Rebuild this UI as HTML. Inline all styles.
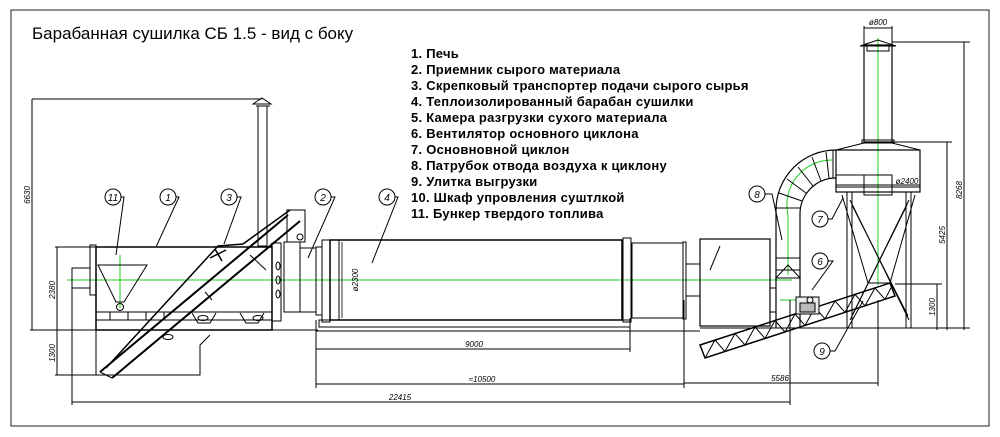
<!DOCTYPE html>
<html><head><meta charset="utf-8"><style>
html,body{margin:0;padding:0;background:#fff;width:1000px;height:437px;overflow:hidden}
svg{display:block}
.t{font-family:"Liberation Sans",sans-serif}
</style></head><body>
<svg width="1000" height="437" viewBox="0 0 1000 437" xmlns="http://www.w3.org/2000/svg">
<rect x="11" y="10" width="978" height="416" fill="none" stroke="#222" stroke-width="1"/>
<text x="32" y="39" class="t" font-size="17" fill="#000">Барабанная сушилка  СБ 1.5 - вид с боку</text>
<g class="t" font-size="13" font-weight="bold" fill="#000" letter-spacing="0.25">
<text x="411" y="58">1. Печь</text>
<text x="411" y="74">2. Приемник сырого материала</text>
<text x="411" y="90">3. Скрепковый транспортер подачи сырого сырья</text>
<text x="411" y="106">4. Теплоизолированный барабан сушилки</text>
<text x="411" y="122">5. Камера разгрузки сухого материала</text>
<text x="411" y="138">6. Вентилятор основного циклона</text>
<text x="411" y="154">7. Основновной циклон</text>
<text x="411" y="170">8. Патрубок отвода воздуха к циклону</text>
<text x="411" y="186">9. Улитка выгрузки</text>
<text x="411" y="202">10. Шкаф упровления суштлкой</text>
<text x="411" y="218">11. Бункер твердого топлива</text>
</g>
<g stroke="#2c2" stroke-width="1" fill="none">
<line x1="67" y1="280" x2="792" y2="280"/>
<line x1="120" y1="255" x2="120" y2="308"/>
<line x1="878" y1="38" x2="878" y2="285"/>
<line x1="780" y1="300" x2="810" y2="300"/>
<path d="M788 275 L788 215 A45 45 0 0 1 833 160"/>
</g>
<g stroke="#000" stroke-width="1" fill="none">
<line x1="30" y1="330" x2="318" y2="330"/>
<line x1="316" y1="331" x2="700" y2="331"/>
<line x1="700" y1="328" x2="970" y2="328"/>
<line x1="32" y1="99" x2="32" y2="330"/><line x1="32" y1="99" x2="262" y2="99"/>
<line x1="57" y1="247" x2="57" y2="375"/><line x1="55" y1="247" x2="97" y2="247"/><line x1="55" y1="375" x2="97" y2="375"/>
<line x1="72" y1="282" x2="72" y2="405"/>
<line x1="72" y1="402" x2="790" y2="402"/>
<line x1="316" y1="320" x2="316" y2="388"/>
<line x1="316" y1="349" x2="630" y2="349"/><line x1="630" y1="318" x2="630" y2="352"/>
<line x1="316" y1="384" x2="684" y2="384"/><line x1="684" y1="300" x2="684" y2="388"/>
<line x1="684" y1="383" x2="878" y2="383"/><line x1="878" y1="300" x2="878" y2="386"/>
<line x1="790" y1="300" x2="790" y2="405"/>
<rect x="258" y="106" width="9" height="140"/>
<path d="M253 104 L262 98 L271 104 Z"/><line x1="256" y1="106" x2="270" y2="106"/>
<rect x="96" y="247" width="176" height="83" stroke-width="1.5"/>
<rect x="90" y="245" width="6" height="50"/>
<rect x="72" y="268" width="18" height="20"/>
<line x1="96" y1="312" x2="272" y2="312"/><line x1="96" y1="320" x2="272" y2="320"/>
<line x1="110" y1="312" x2="110" y2="320"/><line x1="128" y1="312" x2="128" y2="320"/><line x1="146" y1="312" x2="146" y2="320"/><line x1="164" y1="312" x2="164" y2="320"/>
<path d="M192 313 L198 323 L210 323 L216 313"/><path d="M240 313 L246 323 L258 323 L264 313"/>
<ellipse cx="203" cy="318" rx="5" ry="2.5"/><ellipse cx="258" cy="318" rx="5" ry="2.5"/>
<path d="M98 265 L147 265 L124 302 L116 302 Z"/>
<circle cx="120" cy="307" r="3.5"/>
<path d="M96 330 L96 375 L200 375 L200 345 L210 335"/>
<ellipse cx="168" cy="337" rx="5" ry="2.5"/>
<path d="M100 372 L288 215" stroke-width="2"/>
<path d="M112 378 L300 221" stroke-width="2"/>
<path d="M106 368 L218 246 L243 244 L290 210" stroke-width="1.5"/>
<path d="M100 372 L112 378"/>
<rect x="287" y="210" width="18" height="32"/>
<circle cx="300" cy="237" r="3"/>
<path d="M210 258 L226 250 M215 249 L222 261" stroke-width="1.5"/>
<path d="M250 255 L266 270 M205 292 L212 300"/>
<rect x="272" y="243" width="9" height="78"/>
<rect x="284" y="242" width="16" height="70"/>
<rect x="300" y="248" width="16" height="64"/>
<ellipse cx="278" cy="266" rx="2" ry="4"/><ellipse cx="278" cy="280" rx="2" ry="4"/><ellipse cx="278" cy="294" rx="2" ry="4"/>
<rect x="316" y="247" width="6" height="68"/>
<rect x="322" y="240" width="8" height="82"/>
<rect x="330" y="240" width="292" height="80" stroke-width="1.5"/>
<line x1="339" y1="240" x2="339" y2="320"/>
<rect x="623" y="238" width="8" height="84"/>
<rect x="319" y="320" width="311" height="7"/>
<rect x="632" y="243" width="51" height="75"/>
<rect x="683" y="242" width="3" height="77"/>
<rect x="686" y="264" width="14" height="32"/>
<rect x="700" y="239" width="70" height="87" stroke-width="1.2"/>
<rect x="770" y="288" width="6" height="24"/>
<path d="M700 345 L705 358 L895 296 L890 283 Z" stroke-width="1.5"/>
<path d="M705 358 L715 340 L725 351.5 L735 333.6 L745 345 L755 327 L765 338.4 L775 320.5 L785 332 L795 314 L805 325.4 L815 307.5 L825 318.8 L835 301 L845 312.3 L855 294.4 L865 305.8 L875 288 L885 299.3 L892 286"/>
<path d="M776 328 L776 210 A60 60 0 0 1 836 150" stroke-width="1.2"/>
<path d="M800 328 L800 215 A36 36 0 0 1 836 178" stroke-width="1.2"/>
<line x1="776" y1="258" x2="800" y2="258"/><line x1="776" y1="208" x2="800" y2="208"/>
<line x1="779" y1="193" x2="802" y2="201"/><line x1="787" y1="179" x2="806" y2="193"/><line x1="798" y1="167" x2="813" y2="186"/><line x1="812" y1="157" x2="821" y2="181"/><line x1="826" y1="152" x2="829" y2="178"/>
<rect x="833" y="150" width="3" height="28"/>
<path d="M776 278 L800 278 L788 265 Z"/>
<line x1="776" y1="270" x2="800" y2="270"/>
<rect x="796" y="297" width="23" height="17" fill="#eee"/>
<rect x="800" y="303" width="15" height="9" fill="#bbb"/>
<circle cx="810" cy="300" r="3"/>
<path d="M836 150 L864 143 L892 143 L920 150 Z"/>
<rect x="836" y="150" width="84" height="42" stroke-width="1.2"/>
<line x1="836" y1="175" x2="878" y2="175"/>
<rect x="864" y="175" width="28" height="20"/>
<rect x="864" y="45" width="28" height="97" stroke-width="1.2"/>
<rect x="862" y="140" width="32" height="3"/>
<path d="M860 46 L878 40 L896 46 Z"/><rect x="867" y="46" width="22" height="5"/>
<line x1="864" y1="28" x2="892" y2="28"/><line x1="864" y1="26" x2="864" y2="45"/><line x1="892" y1="26" x2="892" y2="45"/>
<line x1="836" y1="185" x2="920" y2="185"/>
<path d="M842 195 L868 283 L890 283 L915 195"/>
<rect x="847" y="192" width="5" height="136"/>
<rect x="906" y="192" width="5" height="136"/>
<line x1="850" y1="200" x2="909" y2="320"/><line x1="852" y1="205" x2="908" y2="316"/>
<line x1="909" y1="200" x2="850" y2="320"/><line x1="907" y1="205" x2="852" y2="316"/>
<line x1="892" y1="42" x2="970" y2="42"/><line x1="964" y1="42" x2="964" y2="330"/>
<line x1="892" y1="142" x2="952" y2="142"/><line x1="947" y1="142" x2="947" y2="330"/>
<line x1="895" y1="284" x2="942" y2="284"/><line x1="937" y1="284" x2="937" y2="330"/>
<line x1="836" y1="187" x2="920" y2="187"/>
<line x1="342" y1="242" x2="342" y2="318" stroke-width="0.8"/>
<path d="M121 197 L124 197 L116 255"/>
<path d="M176 197 L179 197 L156 247"/>
<path d="M237 197 L241 197 L224 244"/>
<path d="M331 197 L335 197 L308 258"/>
<path d="M395 197 L398 197 L372 263"/>
<path d="M765 194 L772 194 L782 240"/>
<path d="M828 219 L832 219 L843 198"/>
<path d="M828 261 L833 261 L812 290"/>
<path d="M830 351 L835 351 L863 301"/>
<path d="M720 246 L710 270"/>
</g>
<g stroke="#000" fill="#fff" stroke-width="1">
<circle cx="113" cy="197" r="8"/><circle cx="168" cy="197" r="8"/><circle cx="229" cy="197" r="8"/>
<circle cx="323" cy="197" r="8"/><circle cx="387" cy="197" r="8"/><circle cx="757" cy="194" r="8"/>
<circle cx="820" cy="219" r="8"/><circle cx="820" cy="261" r="8"/><circle cx="822" cy="351" r="8"/>
</g>
<g class="t" font-size="10" font-style="italic" text-anchor="middle" fill="#000">
<text x="113" y="201">11</text><text x="168" y="201">1</text><text x="229" y="201">3</text>
<text x="323" y="201">2</text><text x="387" y="201">4</text><text x="757" y="198">8</text>
<text x="820" y="223">7</text><text x="820" y="265">6</text><text x="822" y="355">9</text>
</g>
<g class="t" font-size="8" font-style="italic" fill="#000" text-anchor="middle">
<text x="474" y="347">9000</text>
<text x="482" y="382">≈10500</text>
<text x="780" y="381">5586</text>
<text x="400" y="400">22415</text>
<text x="878" y="25">ø800</text>
<text x="907" y="184">ø2400</text>
<text transform="translate(30 195) rotate(-90)">6630</text>
<text transform="translate(55 290) rotate(-90)">2380</text>
<text transform="translate(55 353) rotate(-90)">1300</text>
<text transform="translate(358 280) rotate(-90)">ø2300</text>
<text transform="translate(962 190) rotate(-90)">8268</text>
<text transform="translate(945 235) rotate(-90)">5425</text>
<text transform="translate(935 307) rotate(-90)">1300</text>
</g>
</svg>
</body></html>
